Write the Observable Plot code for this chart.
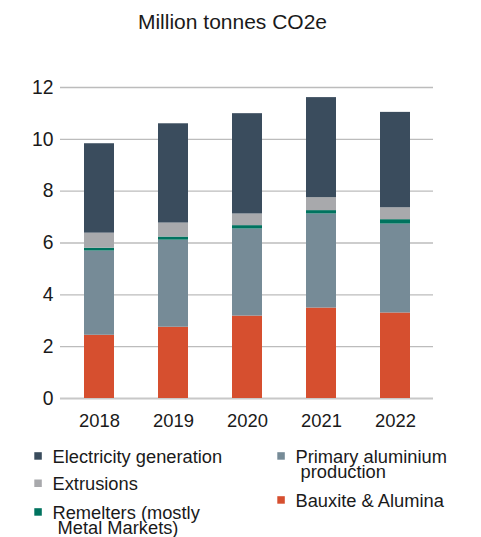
<!DOCTYPE html>
<html>
<head>
<meta charset="utf-8">
<script src="https://cdn.jsdelivr.net/npm/d3@7"></script>
<script src="https://cdn.jsdelivr.net/npm/@observablehq/plot@0.6"></script>
<style>
  html, body { margin: 0; padding: 0; background: #fff; }
  body { width: 481px; height: 537px; overflow: hidden; font-family: "Liberation Sans", Arial, sans-serif; color: #1a1a1a; }
  #title { box-sizing: border-box; height: 40px; width: 465px; padding-top: 11px; font-size: 21px; line-height: 21px; text-align: center; white-space: nowrap; }
  svg { display: block; }
</style>
</head>
<body>
<div id="title"></div>
<div id="chart"></div>
<div id="legend"></div>
<script>
const titleText = "Million tonnes CO2e";
const years = ["2018", "2019", "2020", "2021", "2022"];
// series listed bottom to top of the stack
const seriesNames = ["Bauxite & Alumina", "Primary aluminium production", "Remelters (mostly Metal Markets)", "Extrusions", "Electricity generation"];
const seriesColors = ["#d64f2f", "#768b97", "#00735f", "#a8a9ac", "#3a4c5d"];
const bauxite     = [2.44, 2.75, 3.18, 3.49, 3.30];
const primary     = [3.25, 3.36, 3.36, 3.63, 3.43];
const remelters   = [0.11, 0.12, 0.13, 0.13, 0.17];
const extrusions  = [0.58, 0.54, 0.45, 0.50, 0.46];
const electricity = [3.45, 3.83, 3.87, 3.86, 3.68];
const yTicks = [0, 2, 4, 6, 8, 10, 12];

// legend layout (label lines)
const legendLeft = [
  ["Electricity generation", ["Electricity generation"]],
  ["Extrusions", ["Extrusions"]],
  ["Remelters (mostly Metal Markets)", ["Remelters (mostly", " Metal Markets)"]]
];
const legendRight = [
  ["Primary aluminium production", ["Primary aluminium", " production"]],
  ["Bauxite & Alumina", ["Bauxite & Alumina"]]
];

document.getElementById("title").textContent = titleText;

const valuesBySeries = [bauxite, primary, remelters, extrusions, electricity];
const data = [];
seriesNames.forEach((s, si) => {
  years.forEach((y, yi) => data.push({year: y, series: s, value: valuesBySeries[si][yi]}));
});

const plot = Plot.plot({
  width: 481,
  height: 400,
  marginTop: 47,
  marginBottom: 42,
  marginLeft: 60,
  marginRight: 48,
  style: {fontFamily: "Liberation Sans, Arial, sans-serif", color: "#1a1a1a", background: "#fff"},
  x: {domain: years, paddingInner: 0.6, paddingOuter: 0.3, label: null},
  y: {domain: [0, 12], label: null},
  color: {domain: seriesNames, range: seriesColors},
  marks: [
    Plot.ruleY(yTicks.filter(d => d > 0), {stroke: "#bcbcbc", strokeWidth: 1.4}),
    Plot.ruleY([0], {stroke: "#c8c8c8", strokeWidth: 2}),
    Plot.barY(data, {x: "year", y: "value", fill: "series", order: seriesNames}),
    Plot.axisY({ticks: yTicks, tickSize: 0, tickPadding: 7, fontSize: 19.3, label: null}),
    Plot.axisX({tickSize: 0, tickPadding: 15, fontSize: 18.4, label: null})
  ]
});
document.getElementById("chart").appendChild(plot);

// legend
const colorOf = Object.fromEntries(seriesNames.map((s, i) => [s, seriesColors[i]]));
const lsvg = d3.select("#legend").append("svg").attr("width", 481).attr("height", 97)
  .style("font-family", "Liberation Sans, Arial, sans-serif").style("font-size", "18.3px");
// top of legend svg is page y=440
function drawCol(items, sx, tx, baselines) {
  items.forEach(([name, lines], i) => {
    const b = baselines[i];
    lsvg.append("rect").attr("x", sx).attr("y", b - 10.5).attr("width", 7.5).attr("height", 7.5).attr("fill", colorOf[name]);
    lines.forEach((ln, li) => {
      lsvg.append("text").attr("x", tx).attr("y", b + li * 15).attr("fill", "#1a1a1a")
        .attr("xml:space", "preserve").style("white-space", "pre").text(ln);
    });
  });
}
drawCol(legendLeft, 34.3, 52.5, [22.7, 50, 78.7]);
drawCol(legendRight, 277.3, 295.5, [22.7, 66.7]);
</script>
</body>
</html>
